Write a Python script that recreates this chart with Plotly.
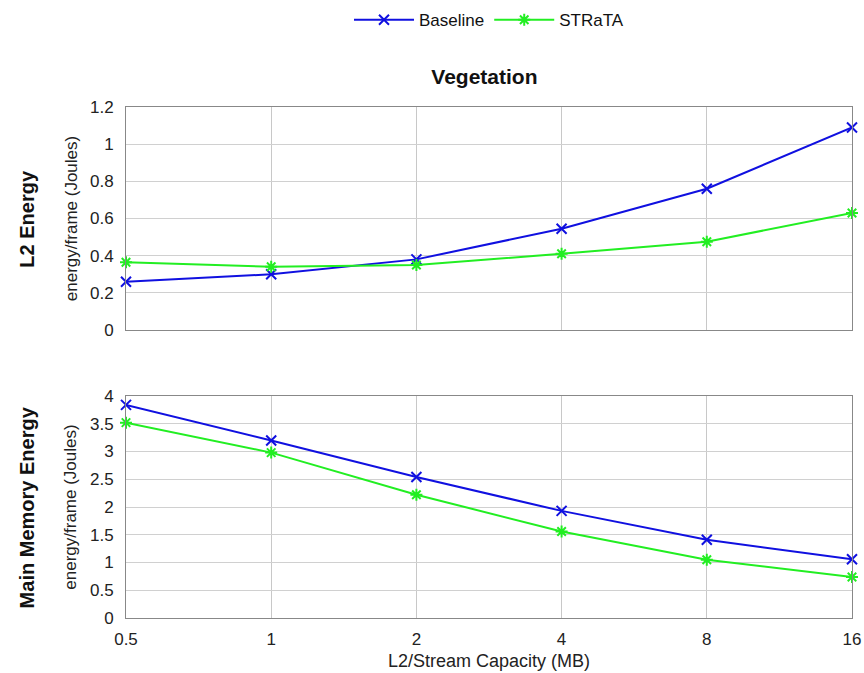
import math
import plotly.graph_objects as go
from plotly.subplots import make_subplots

capacity = [0.5, 1, 2, 4, 8, 16]
capacity_labels = ["0.5", "1", "2", "4", "8", "16"]

l2_baseline = [0.26, 0.30, 0.38, 0.545, 0.76, 1.09]
l2_strata = [0.365, 0.34, 0.35, 0.41, 0.475, 0.63]

mem_baseline = [3.84, 3.20, 2.54, 1.93, 1.41, 1.06]
mem_strata = [3.52, 2.98, 2.22, 1.56, 1.05, 0.74]

BLUE = "#1010e0"
GREEN = "#22ee22"
FONT = "Liberation Sans, Arial, sans-serif"

fig = make_subplots(rows=2, cols=1, shared_xaxes=True, vertical_spacing=0.13)

def add(row, ys, name, color, symbol, show):
    fig.add_trace(go.Scatter(
        x=capacity, y=ys, name=name, mode="lines+markers",
        line=dict(color=color, width=2),
        marker=dict(symbol=symbol, size=10, color=color, line=dict(color=color, width=2)),
        cliponaxis=False, showlegend=show), row=row, col=1)

add(1, l2_baseline, "Baseline", BLUE, "x-thin", True)
add(1, l2_strata, "STRaTA", GREEN, "asterisk", True)
add(2, mem_baseline, "Baseline", BLUE, "x-thin", False)
add(2, mem_strata, "STRaTA", GREEN, "asterisk", False)

xaxis_common = dict(type="log", range=[math.log10(0.5), math.log10(16)],
                    tickvals=capacity, ticktext=capacity_labels,
                    showgrid=True, gridcolor="#c8c8c8", gridwidth=1,
                    showline=True, linecolor="#888888", linewidth=1, mirror=True,
                    ticks="", zeroline=False, automargin=False,
                    ticklabelstandoff=6, ticklabeloverflow="allow",
                    tickfont=dict(family=FONT, size=17, color="#222"))
fig.update_xaxes(**xaxis_common)
fig.update_xaxes(showticklabels=False, row=1, col=1)
fig.update_xaxes(title=dict(text="L2/Stream Capacity (MB)", font=dict(family=FONT, size=18, color="#222"), standoff=5),
                 row=2, col=1)

yaxis_common = dict(showgrid=True, gridcolor="#d0d0d0", gridwidth=1,
                    showline=True, linecolor="#888888", linewidth=1, mirror=True,
                    ticks="", zeroline=False, automargin=False,
                    ticklabelstandoff=8,
                    tickfont=dict(family=FONT, size=17, color="#222"))
fig.update_yaxes(**yaxis_common)
fig.update_yaxes(range=[0, 1.2], dtick=0.2, row=1, col=1,
                 title=dict(text="energy/frame (Joules)", font=dict(family=FONT, size=17, color="#222"), standoff=8))
fig.update_yaxes(range=[0, 4], dtick=0.5, row=2, col=1,
                 title=dict(text="energy/frame (Joules)", font=dict(family=FONT, size=17, color="#222"), standoff=8))

fig.update_layout(
    width=864, height=673,
    margin=dict(l=126, r=12, t=107, b=55, autoexpand=False),
    paper_bgcolor="white", plot_bgcolor="white",
    font=dict(family=FONT, color="#111"),
    title=dict(text="<b>Vegetation</b>", x=0.5607, xanchor="center", y=0.8856, yanchor="middle",
               font=dict(family=FONT, size=21, color="#111")),
    legend=dict(orientation="h", x=0.5, xanchor="center", y=1.17, yanchor="middle",
                font=dict(family=FONT, size=17, color="#111"), itemwidth=60),
    annotations=[
        dict(text="<b>L2 Energy</b>", xref="paper", yref="paper", x=-0.136, y=0.782,
             textangle=-90, showarrow=False, xanchor="center", yanchor="middle",
             font=dict(family=FONT, size=20, color="#111")),
        dict(text="<b>Main Memory Energy</b>", xref="paper", yref="paper", x=-0.136, y=0.217,
             textangle=-90, showarrow=False, xanchor="center", yanchor="middle",
             font=dict(family=FONT, size=20, color="#111")),
    ],
)

fig.update_layout(yaxis=dict(domain=[0.5636, 1.0]), yaxis2=dict(domain=[0.0, 0.4344]))

fig.write_html("out.html", config={"displayModeBar": False},
               post_script="document.body.style.margin='0px';")
